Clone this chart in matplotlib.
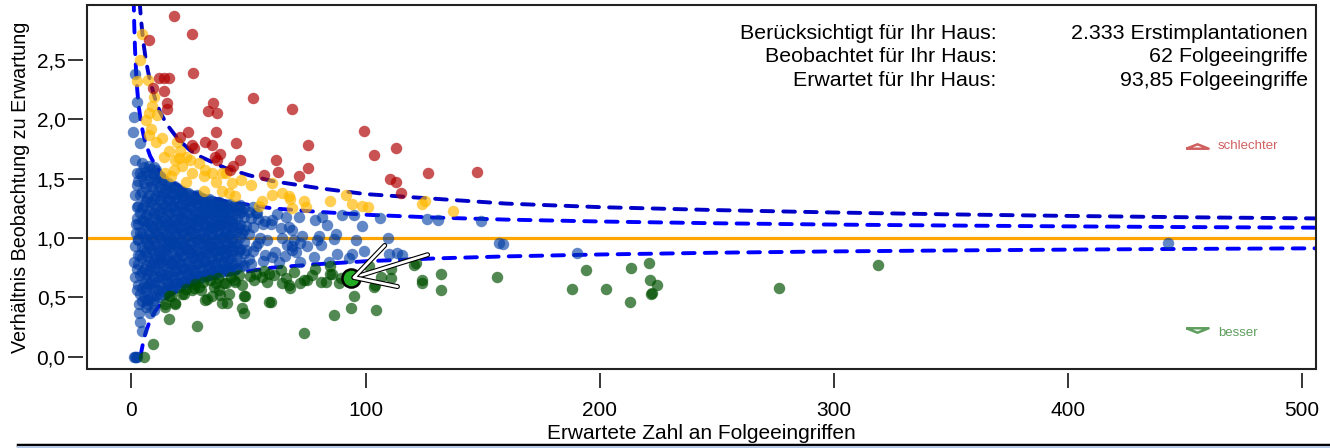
import matplotlib.pyplot as plt
import matplotlib.patheffects as pe
from matplotlib.lines import Line2D
from matplotlib.patches import Rectangle
from matplotlib.path import Path
import numpy as np

plt.rcParams['font.family'] = ['Liberation Sans', 'DejaVu Sans']

# funnel limits
inner_x = [0.9, 1, 1.2, 1.5, 2, 2.5, 3, 4, 5, 6, 8, 10, 13, 16, 20, 25, 30, 40, 50, 60,
           80, 100, 130, 160, 200, 250, 300, 350, 400, 450, 506]
inner_upper = [3.07, 2.96, 2.79, 2.60, 2.39, 2.24, 2.13, 1.98, 1.88, 1.80, 1.69, 1.62, 1.54,
               1.49, 1.44, 1.39, 1.36, 1.31, 1.28, 1.25, 1.22, 1.196, 1.172, 1.155, 1.139,
               1.124, 1.113, 1.105, 1.098, 1.092, 1.087]
lower_x = [3.84, 4, 5, 6, 8, 10, 13, 16, 20, 25, 30, 40, 50, 60, 80, 100, 130, 160, 200,
           250, 300, 350, 400, 450, 506]
lower = [0.0, 0.02, 0.12, 0.20, 0.31, 0.38, 0.46, 0.51, 0.56, 0.61, 0.64, 0.69, 0.72, 0.75,
         0.78, 0.804, 0.828, 0.845, 0.861, 0.876, 0.887, 0.895, 0.902, 0.908, 0.913]
outer_x = [3.5, 4, 5, 6, 7, 8, 10, 12, 15, 20, 25, 30, 40, 50, 60, 80, 100, 130, 160, 200,
           250, 300, 350, 400, 450, 506]
outer_upper = [2.99, 2.86, 2.66, 2.52, 2.41, 2.32, 2.18, 2.07, 1.96, 1.83, 1.74, 1.68, 1.59,
               1.53, 1.48, 1.42, 1.37, 1.33, 1.29, 1.26, 1.235, 1.215, 1.199, 1.186, 1.175, 1.165]

# hospitals above the outer limit
red = [(18.1, 2.87), (25.8, 2.72), (7.7, 2.67), (26.2, 2.39), (11.7, 2.35), (13.8, 2.35),
       (16.2, 2.35), (13.8, 2.24), (9.3, 2.26), (15.0, 2.14), (15.2, 2.09), (34.9, 2.14),
       (32.8, 2.07), (36.6, 2.05), (52.1, 2.18), (68.4, 2.09), (36.2, 1.89), (24.1, 1.89),
       (20.9, 1.85), (25.9, 1.78), (26.6, 1.76), (31.3, 1.81), (34.2, 1.78), (44.7, 1.80),
       (35.6, 1.68), (38.0, 1.71), (36.6, 1.66), (46.2, 1.66), (43.3, 1.61), (42.3, 1.57),
       (61.8, 1.66), (62.7, 1.56), (56.8, 1.53), (99.3, 1.90), (75.5, 1.78), (103.6, 1.70),
       (113.1, 1.76), (75.4, 1.59), (71.5, 1.52), (110.4, 1.50), (112.8, 1.47), (115.0, 1.38),
       (126.8, 1.55), (147.4, 1.56)]

# between inner and outer upper limit
yellow = [(4.6, 2.72), (3.8, 2.50), (7.1, 2.33), (2.4, 2.32), (9.5, 2.19), (8.8, 2.11),
          (7.4, 2.05), (11.0, 2.04), (6.3, 1.99), (8.5, 1.92), (7.4, 1.87), (13.1, 1.84),
          (10.3, 1.81), (19.5, 1.81), (15.9, 1.73), (13.8, 1.68), (20.9, 1.73), (23.1, 1.68),
          (25.2, 1.66), (18.8, 1.66), (21.7, 1.61), (28.8, 1.63), (31.6, 1.57), (34.5, 1.55),
          (38.8, 1.55), (25.9, 1.55), (18.1, 1.57), (14.5, 1.55), (20.2, 1.67), (16.7, 1.52),
          (23.1, 1.47), (30.9, 1.52), (35.9, 1.47), (40.2, 1.55), (43.0, 1.46), (46.6, 1.49),
          (50.9, 1.45), (41.6, 1.38), (44.4, 1.35), (38.8, 1.40), (30.9, 1.40), (60.1, 1.46),
          (64.4, 1.38), (60.1, 1.36), (55.8, 1.31), (67.2, 1.35), (54.4, 1.27), (67.9, 1.33),
          (73.6, 1.31), (74.4, 1.26), (68.7, 1.25), (84.7, 1.31), (91.5, 1.36), (94.3, 1.29),
          (98.6, 1.27), (101.0, 1.26), (124.2, 1.29), (125.2, 1.31), (137.3, 1.23)]

# below the lower limit
green = [(5.3, 0.0), (9.3, 0.11), (15.9, 0.32), (27.8, 0.26), (18.8, 0.44), (14.5, 0.42),
         (15.9, 0.51), (22.4, 0.53), (26.6, 0.58), (32.3, 0.49), (29.5, 0.56), (35.2, 0.59),
         (38.0, 0.52), (40.9, 0.45), (39.5, 0.62), (43.7, 0.65), (48.0, 0.51), (47.3, 0.41),
         (48.0, 0.37), (52.3, 0.65), (58.0, 0.63), (59.4, 0.46), (56.5, 0.72), (63.7, 0.73),
         (64.4, 0.62), (67.9, 0.58), (73.6, 0.20), (72.2, 0.62), (75.1, 0.65), (80.8, 0.63),
         (86.5, 0.35), (85.0, 0.70), (89.3, 0.66), (95.0, 0.51), (93.6, 0.41), (104.3, 0.39),
         (103.6, 0.59), (106.4, 0.67), (110.7, 0.66), (110.7, 0.74), (120.6, 0.77),
         (124.2, 0.65), (124.2, 0.62), (132.1, 0.70), (132.1, 0.56), (156.3, 0.67),
         (121.4, 0.79), (194.2, 0.73), (188.3, 0.57), (202.6, 0.57), (213.5, 0.75),
         (221.1, 0.79), (221.5, 0.65), (224.6, 0.60), (222.5, 0.54), (221.8, 0.53),
         (213.0, 0.46), (276.8, 0.58), (319.0, 0.77), (85.8, 0.70), (85.0, 0.76), (82.9, 0.63),
         (77.2, 0.69), (73.6, 0.65), (88.6, 0.62), (101.4, 0.76), (104.0, 0.60), (14.5, 0.44),
         (18.8, 0.45), (16.7, 0.51), (21.7, 0.53), (25.9, 0.56), (28.8, 0.59), (31.6, 0.48),
         (34.5, 0.51), (35.9, 0.62), (37.3, 0.56), (40.2, 0.62), (41.6, 0.53), (38.8, 0.45),
         (47.3, 0.60), (48.7, 0.51), (44.4, 0.63), (53.0, 0.70), (55.8, 0.67), (58.8, 0.70),
         (67.2, 0.60), (65.8, 0.66), (58.8, 0.46), (23.5, 0.57), (27.2, 0.61), (30.5, 0.63),
         (33.5, 0.65), (36.8, 0.66), (42.5, 0.67), (45.8, 0.69), (50.5, 0.68), (61.0, 0.69),
         (69.5, 0.71), (78.5, 0.74)]

# inside the limits, scattered ones
blue = [(1.7, 2.38), (2.4, 2.15), (1.0, 2.02), (0.7, 1.89), (3.5, 1.80), (1.7, 1.66),
        (2.4, 1.55), (1.7, 1.36), (2.4, 1.17), (2.1, 1.04), (1.7, 0.93), (1.0, 0.80),
        (1.7, 0.67), (2.4, 0.56), (3.1, 0.44), (3.1, 0.37), (3.8, 0.29), (4.6, 0.22),
        (1.2, 0.0), (1.6, 0.0), (2.0, 0.0), (2.4, 0.0), (9.5, 0.39), (8.1, 0.37), (6.7, 0.48),
        (2.2, 0.74), (2.6, 0.86), (2.0, 1.12), (2.5, 1.26), (2.2, 1.45), (2.8, 0.98),
        (78.6, 1.15), (81.5, 1.18), (83.6, 1.11), (90.0, 1.19), (98.6, 1.10), (106.0, 1.17),
        (126.4, 1.16), (130.9, 1.15), (149.1, 1.14), (157.0, 0.955), (158.9, 0.95),
        (109.6, 1.00), (95.7, 0.98), (87.2, 1.03), (86.5, 0.99), (80.0, 1.02), (79.3, 0.98),
        (80.8, 0.94), (72.9, 1.02), (72.2, 0.955), (69.4, 0.98), (68.7, 0.93), (70.1, 0.885),
        (77.9, 0.84), (87.9, 0.865), (94.3, 0.865), (92.9, 0.83), (99.3, 0.89), (110.0, 0.865),
        (113.5, 0.876), (67.2, 1.09), (65.8, 1.18), (71.5, 1.18), (84.3, 0.80), (72.2, 0.80),
        (53.7, 1.21), (59.4, 1.12), (63.7, 1.08), (68.7, 1.07), (66.5, 0.94), (68.7, 0.90),
        (75.1, 0.93), (115.7, 0.86), (95.0, 1.19), (190.5, 0.87), (442.6, 0.96),
        (62.0, 1.20), (64.5, 1.00), (61.5, 0.88), (63.0, 0.80), (65.5, 0.85)]

# the dense cluster, column by column (two interleaved passes)
cluster_x = [3.0, 4.5, 6.0, 7.5, 9.0, 10.5, 12.0, 13.5, 15.0, 16.5, 18.0, 19.5, 21.0, 22.5,
             24.0, 25.5, 27.0, 28.5, 30.0, 31.5, 33.0, 34.5, 36.0, 37.5, 39.0, 40.5, 42.0,
             43.5, 45.0, 46.5, 48.0, 50.0, 52.0, 54.0, 56.0, 58.0, 60.0]
cluster_y = [
    [0.60, 0.78, 0.99, 1.12, 1.27, 1.48],
    [0.47, 0.58, 0.71, 0.83, 0.92, 1.04, 1.15, 1.25, 1.39, 1.52, 1.63],
    [0.42, 0.55, 0.66, 0.77, 0.88, 0.99, 1.09, 1.19, 1.31, 1.43, 1.56],
    [0.49, 0.61, 0.72, 0.81, 0.94, 1.03, 1.13, 1.24, 1.36, 1.49, 1.61],
    [0.45, 0.57, 0.68, 0.79, 0.87, 0.98, 1.08, 1.18, 1.28, 1.41, 1.54],
    [0.52, 0.63, 0.75, 0.84, 0.95, 1.06, 1.16, 1.26, 1.35, 1.47, 1.57],
    [0.50, 0.61, 0.71, 0.82, 0.91, 1.01, 1.11, 1.22, 1.32, 1.43, 1.52],
    [0.55, 0.66, 0.77, 0.88, 0.97, 1.07, 1.18, 1.29, 1.38, 1.49],
    [0.56, 0.64, 0.74, 0.85, 0.94, 1.04, 1.14, 1.24, 1.34, 1.45],
    [0.59, 0.71, 0.81, 0.92, 1.01, 1.12, 1.21, 1.31, 1.42],
    [0.58, 0.67, 0.77, 0.86, 0.97, 1.06, 1.16, 1.27, 1.37, 1.44],
    [0.62, 0.73, 0.83, 0.94, 1.03, 1.13, 1.23, 1.33, 1.42],
    [0.60, 0.69, 0.79, 0.89, 0.99, 1.09, 1.18, 1.29, 1.39],
    [0.64, 0.75, 0.85, 0.95, 1.05, 1.15, 1.25, 1.35],
    [0.63, 0.71, 0.81, 0.91, 1.02, 1.11, 1.21, 1.31, 1.38],
    [0.66, 0.77, 0.87, 0.97, 1.07, 1.17, 1.27, 1.36],
    [0.65, 0.73, 0.83, 0.93, 1.04, 1.14, 1.23, 1.33],
    [0.68, 0.79, 0.89, 0.99, 1.09, 1.19, 1.29, 1.35],
    [0.67, 0.75, 0.85, 0.96, 1.06, 1.16, 1.25, 1.34],
    [0.70, 0.81, 0.91, 1.01, 1.11, 1.21, 1.30],
    [0.69, 0.77, 0.87, 0.97, 1.08, 1.18, 1.27, 1.33],
    [0.72, 0.83, 0.93, 1.03, 1.13, 1.23, 1.31],
    [0.70, 0.79, 0.89, 0.99, 1.10, 1.19, 1.28],
    [0.74, 0.85, 0.95, 1.05, 1.15, 1.25, 1.30],
    [0.72, 0.81, 0.91, 1.01, 1.12, 1.21, 1.29],
    [0.76, 0.87, 0.97, 1.07, 1.17, 1.26],
    [0.73, 0.83, 0.93, 1.03, 1.14, 1.23, 1.29],
    [0.78, 0.89, 0.99, 1.09, 1.19, 1.27],
    [0.75, 0.85, 0.95, 1.05, 1.16, 1.24],
    [0.80, 0.91, 1.01, 1.11, 1.21, 1.28],
    [0.77, 0.87, 0.97, 1.07, 1.18, 1.25],
    [0.82, 1.03, 1.22],
    [0.89, 1.09, 1.26],
    [0.96, 1.16],
    [0.81, 1.12],
    [0.98],
    [0.84, 1.15],
]
cluster2_x = [3.8, 5.3, 6.8, 8.3, 9.8, 11.3, 12.8, 14.3, 15.8, 17.3, 18.8, 20.3, 21.8, 23.3,
              24.8, 26.3, 27.8, 29.3, 30.8, 32.3, 33.8, 35.3, 36.8, 38.3, 39.8, 41.3, 42.8,
              44.3, 45.8, 47.3, 49.0, 51.0, 53.0, 55.0, 57.0]
cluster2_y = [
    [0.53, 0.69, 0.86, 1.05, 1.21, 1.36, 1.55],
    [0.50, 0.62, 0.74, 0.90, 1.01, 1.14, 1.28, 1.46, 1.60],
    [0.44, 0.59, 0.70, 0.85, 0.96, 1.12, 1.20, 1.34, 1.53],
    [0.51, 0.64, 0.76, 0.91, 1.00, 1.10, 1.30, 1.44, 1.58],
    [0.48, 0.60, 0.73, 0.82, 0.93, 1.04, 1.21, 1.33, 1.50, 1.60],
    [0.56, 0.67, 0.79, 0.89, 1.03, 1.13, 1.20, 1.39, 1.51],
    [0.53, 0.69, 0.80, 0.86, 0.99, 1.14, 1.25, 1.35, 1.47],
    [0.58, 0.70, 0.82, 0.91, 1.02, 1.11, 1.27, 1.41],
    [0.61, 0.69, 0.79, 0.93, 0.98, 1.09, 1.19, 1.32, 1.38, 1.46],
    [0.57, 0.65, 0.78, 0.87, 0.96, 1.08, 1.15, 1.26, 1.36],
    [0.62, 0.72, 0.81, 0.95, 1.02, 1.11, 1.24, 1.32, 1.42],
    [0.59, 0.69, 0.78, 0.88, 0.97, 1.08, 1.18, 1.27, 1.37],
    [0.63, 0.74, 0.86, 0.93, 1.04, 1.16, 1.23, 1.34, 1.40],
    [0.61, 0.70, 0.79, 0.91, 1.00, 1.09, 1.20, 1.29, 1.38],
    [0.66, 0.74, 0.87, 0.95, 1.07, 1.13, 1.26, 1.33],
    [0.64, 0.72, 0.83, 0.90, 1.02, 1.12, 1.19, 1.31],
    [0.68, 0.78, 0.86, 0.98, 1.09, 1.16, 1.28, 1.36],
    [0.66, 0.75, 0.84, 0.95, 1.03, 1.14, 1.22, 1.33],
    [0.69, 0.80, 0.88, 0.99, 1.10, 1.19, 1.27],
    [0.68, 0.76, 0.87, 0.94, 1.05, 1.15, 1.24, 1.32],
    [0.71, 0.80, 0.92, 1.01, 1.09, 1.21, 1.29],
    [0.70, 0.78, 0.88, 0.97, 1.08, 1.17, 1.26],
    [0.73, 0.84, 0.92, 1.03, 1.12, 1.22, 1.30],
    [0.71, 0.80, 0.90, 1.00, 1.11, 1.18, 1.27],
    [0.74, 0.85, 0.94, 1.05, 1.14, 1.24],
    [0.72, 0.81, 0.90, 1.01, 1.10, 1.20, 1.28],
    [0.76, 0.86, 0.97, 1.06, 1.15, 1.25],
    [0.74, 0.93, 1.12],
    [0.89, 1.08, 1.26],
    [0.76, 1.04, 1.23],
    [0.90, 1.10],
    [0.78, 1.17],
    [0.93, 1.21],
    [1.00],
    [0.86, 1.14],
]

house = (93.85, 0.66)

x_ticks = [0, 100, 200, 300, 400, 500]
y_ticks = [0.0, 0.5, 1.0, 1.5, 2.0, 2.5]

info_labels = ["Berücksichtigt für Ihr Haus:", "Beobachtet für Ihr Haus:", "Erwartet für Ihr Haus:"]
info_values = ["2.333 Erstimplantationen", "62 Folgeeingriffe", "93,85 Folgeeingriffe"]

fontsize = 15.4

fig = plt.figure(figsize=(13.3, 4.48), dpi=100)
ax = fig.add_axes([0.0654, 0.1763, 0.9241, 0.8125])
ax.set_xlim(-19, 506)
ax.set_ylim(-0.104, 2.963)

ax.axhline(1.0, color="#FFA500", lw=2.3, zorder=1)
dash_kw = dict(lw=2.8, dashes=(3.0, 2.6), dash_capstyle="round", zorder=2)
ax.plot(outer_x, outer_upper, color="#0000C8", **dash_kw)
ax.plot(inner_x, inner_upper, color="#0000FF", **dash_kw)
ax.plot(lower_x, lower, color="#0000FF", **dash_kw)

cx = []
cy = []
for xs, yss in [(cluster_x, cluster_y), (cluster2_x, cluster2_y)]:
    for x, ys in zip(xs, yss):
        cx += [x] * len(ys)
        cy += ys
blue_pts = np.array(blue)
ax.scatter(np.r_[blue_pts[:, 0], cx], np.r_[blue_pts[:, 1], cy], s=68, color="#003DA5",
           alpha=0.62, lw=0, zorder=3)
for pts, col in [(yellow, "#FFB800"), (red, "#B00000"), (green, "#005000")]:
    pts = np.array(pts)
    ax.scatter(pts[:, 0], pts[:, 1], s=68, color=col, alpha=0.68, lw=0, zorder=3)

ax.scatter([house[0]], [house[1]], s=170, color="#22AA22", edgecolors="black",
           linewidths=1.8, zorder=5)
ax.annotate("", xy=house, xytext=(55, 17), textcoords="offset points", zorder=6,
            arrowprops=dict(arrowstyle="->,head_length=2.8,head_width=1.55",
                            mutation_scale=10, color="white", lw=2.0, shrinkA=0, shrinkB=0,
                            path_effects=[pe.Stroke(linewidth=3.6, foreground="black"),
                                          pe.Normal()]))

# schlechter / besser markers
tri_up = Path([(-1, -0.2), (0, 0.2), (1, -0.2), (-1, -0.2)])
tri_down = Path([(-1, 0.2), (0, -0.2), (1, 0.2), (-1, 0.2)])
ax.plot([0.903], [0.613], transform=ax.transAxes, marker=tri_up, ms=16, mfc="none",
        mec="#D06060", mew=1.8, ls="none")
ax.text(0.920, 0.613, "schlechter", transform=ax.transAxes, fontsize=9.5, color="#D06060",
        va="center", ha="left")
ax.plot([0.903], [0.107], transform=ax.transAxes, marker=tri_down, ms=16, mfc="none",
        mec="#5E9E5E", mew=1.8, ls="none")
ax.text(0.920, 0.100, "besser", transform=ax.transAxes, fontsize=9.5, color="#5E9E5E",
        va="center", ha="left")

for i, (lab, val) in enumerate(zip(info_labels, info_values)):
    yy = 0.923 - i * 0.0645
    ax.text(0.740, yy, lab, transform=ax.transAxes, fontsize=fontsize, ha="right", va="center")
    ax.text(0.9935, yy, val, transform=ax.transAxes, fontsize=fontsize, ha="right", va="center")

ax.set_xticks(x_ticks)
ax.set_xticklabels([str(t) for t in x_ticks])
ax.set_yticks(y_ticks)
ax.set_yticklabels([("%.1f" % t).replace(".", ",") for t in y_ticks])
ax.tick_params(direction="out", length=10.8, width=1.1, labelsize=15)
ax.tick_params(axis="x", pad=9)
ax.tick_params(axis="y", pad=1.5)

for side in ["left", "bottom"]:
    ax.spines[side].set_position(("outward", 3))
    ax.spines[side].set_color("none")
for side in ["top", "right"]:
    ax.spines[side].set_visible(False)
ax.add_patch(Rectangle((0, 0), 1, 1, transform=ax.transAxes, fill=False, lw=1.5,
                       ec="#222222", clip_on=False, zorder=7))

ax.set_ylabel("Verhältnis Beobachtung zu Erwartung", fontsize=14.2)
ax.yaxis.set_label_coords(-0.0464, 0.5)
ax.set_xlabel("Erwartete Zahl an Folgeeingriffen", fontsize=15)
ax.xaxis.set_label_coords(0.5, -0.152)

fig.add_artist(Line2D([0.0135, 1.0], [0.0067, 0.0067], transform=fig.transFigure,
                      color="black", lw=2.5))
fig.add_artist(Line2D([0.0135, 1.0], [0.0015, 0.0015], transform=fig.transFigure,
                      color="#B4C7E7", lw=1.5))

fig.savefig("out.png", dpi=100)
